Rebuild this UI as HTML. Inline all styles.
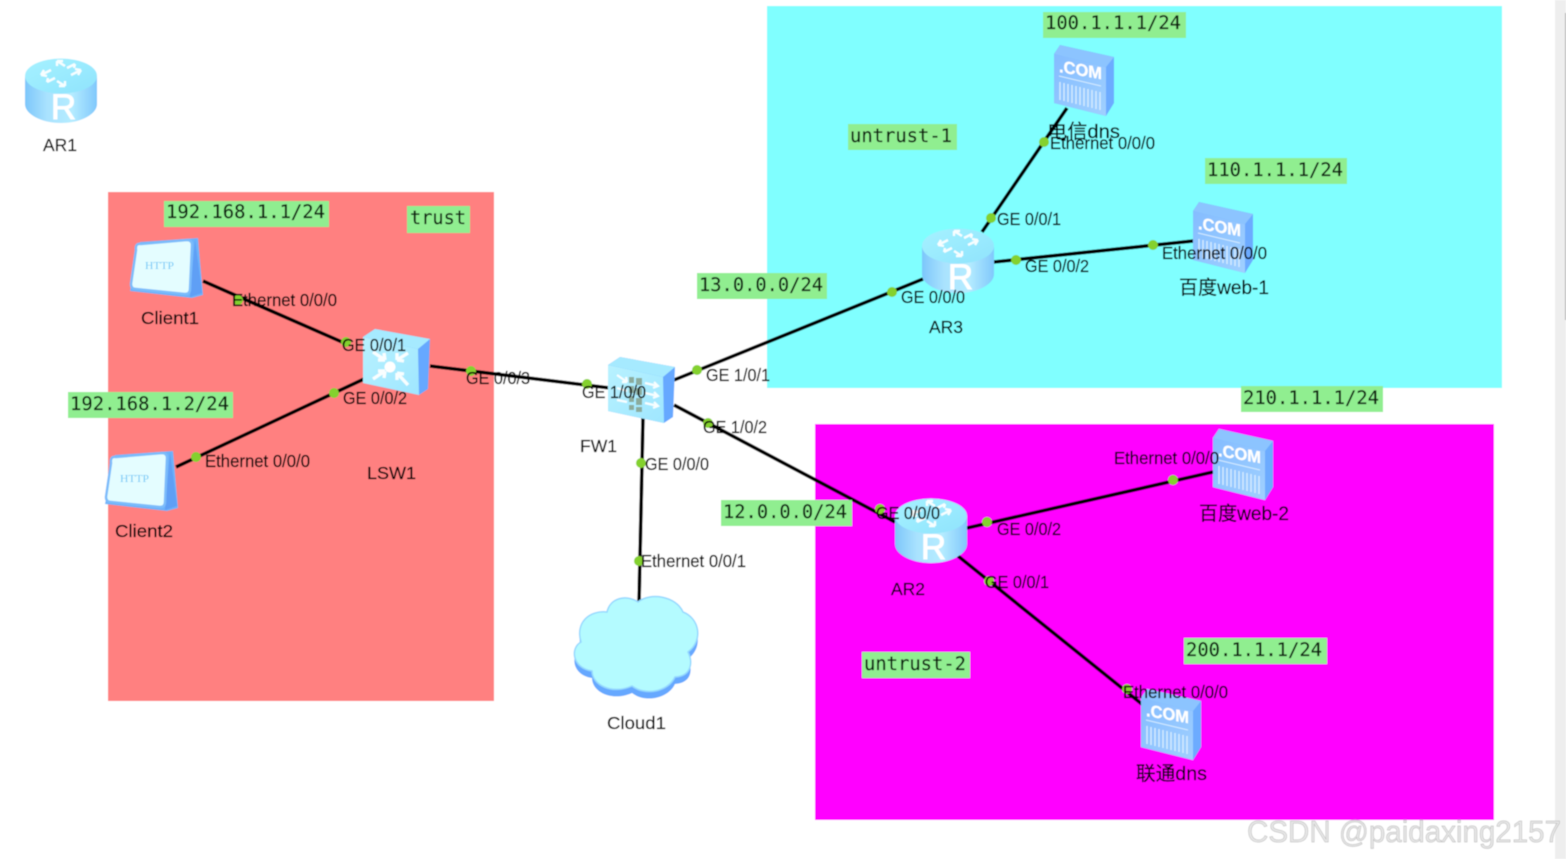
<!DOCTYPE html>
<html><head><meta charset="utf-8"><style>
html,body{margin:0;padding:0;background:#fff;width:1566px;height:859px;overflow:hidden}
svg{display:block}
.l{font-family:"Liberation Sans","Noto Sans CJK SC",sans-serif;font-size:17.5px;fill:#000;stroke:#000;stroke-width:.2}
.z{font-family:"Liberation Sans","Noto Sans CJK SC",sans-serif;font-size:19.5px;fill:#000;stroke:#000;stroke-width:.2}
.i{font-family:"Liberation Sans",sans-serif;font-size:17.5px;fill:#000;stroke:#000;stroke-width:.2}
.m{font-family:"DejaVu Sans Mono","Liberation Mono",monospace;font-size:18.5px;fill:#0a200f;stroke:#0a200f;stroke-width:.2}
.g{fill:#90ee90}
.c{stroke:#000;stroke-width:3.6;fill:none}
.d{fill:#84d12f}
</style></head><body>
<svg width="1566" height="859" viewBox="0 0 1566 859" xmlns="http://www.w3.org/2000/svg">
<defs>
<filter id="soft" x="0" y="0" width="100%" height="100%"><feGaussianBlur stdDeviation="0.45"/></filter>
<linearGradient id="cy" x1="0" x2="1" y1="0" y2="0"><stop offset="0" stop-color="#7cc6fb"/><stop offset=".3" stop-color="#a9e2fe"/><stop offset=".65" stop-color="#b5ecff"/><stop offset="1" stop-color="#80c8fc"/></linearGradient>
<linearGradient id="top" x1="0" x2="1" y1="0" y2="1"><stop offset="0" stop-color="#a6f2ff"/><stop offset="1" stop-color="#8fe3fd"/></linearGradient>
<linearGradient id="srv" x1="0" x2="1" y1="0" y2="1"><stop offset="0" stop-color="#84bcff"/><stop offset="1" stop-color="#a0d0ff"/></linearGradient>
<linearGradient id="cube" x1="0" x2="1" y1="0" y2="1"><stop offset="0" stop-color="#b8f2ff"/><stop offset="1" stop-color="#9fe6ff"/></linearGradient>
<g id="router">
<path d="M0 18V46C0 56 16 65 36 65S72 56 72 46V18Z" fill="url(#cy)"/>
<ellipse cx="36" cy="18" rx="36" ry="17.5" fill="url(#top)"/>
<g transform="translate(36 15)" stroke="#fff" stroke-width="2.4" fill="none" opacity=".92">
<path d="M-20 2l10-5M-20 2l6 1M-20 2l3-5M-4-12l8 5M-4-12l6 0M-4-12l0 5M20-3l-10 5M20-3l-6-1M20-3l-3 5M4 13l-8-5M4 13l-6 0M4 13l0-5M-14 9l8-4M-14 9l1-4M14-9l-8 4M14-9l-1 4"/>
</g>
<text x="38.5" y="61" text-anchor="middle" font-family="Liberation Sans,sans-serif" font-size="35" fill="#fff" stroke="#fff" stroke-width=".9">R</text>
</g>
<g id="server">
<path d="M0 9L6 0L60 12L60 58L52 71L0 58Z" fill="#6cabff"/>
<path d="M0 9L52 22V71L0 58Z" fill="url(#srv)"/>
<path d="M0 9L6 0L60 12L52 22Z" fill="#8cc4ff"/>
<text x="0" y="0" transform="matrix(1 .17 0 1 5 27)" font-family="Liberation Sans,sans-serif" font-size="17" font-weight="bold" fill="#fff" stroke="#fff" stroke-width=".3" textLength="43" lengthAdjust="spacingAndGlyphs">.COM</text>
<path d="M5 31L47 41" stroke="#d6ecff" stroke-width="1"/>
<path d="M6 37V55M10 38V56M14 39V57M18 40V58M22 41V59M26 42V60M30 43V61M34 44V62M38 45V63M42 46V64M46 47V65" stroke="#d6ecff" stroke-width="1.4"/>
</g>
<g id="client">
<path d="M10 5L68 1L73 58L62 61L0 54Z" fill="#6cb2fb"/>
<path d="M65 2L72 56L60 60Z" fill="#5f9ff5"/>
<path d="M11 7Q5 6 6 13L1 47Q1 52 6 52L55 57Q60 57 60 52L62 8Q62 3 57 3Z" fill="#e4fdff" stroke="#7cbcfb" stroke-width="2.5"/>
<text x="15" y="32" font-family="Liberation Serif,serif" font-size="10.5" fill="#6fc8f6" textLength="29" lengthAdjust="spacingAndGlyphs">HTTP</text>
</g>
<g id="cubeW">
<path d="M0 8L12 0L67 10L65 60L56 66L0 54Z" fill="#66a8ff"/>
<path d="M0 8L55 20L56 66L0 54Z" fill="url(#cube)"/>
<path d="M0 8L12 0L67 10L55 20Z" fill="#a6eaff"/>
</g>
</defs>

<g filter="url(#soft)">
<rect width="1566" height="859" fill="#fff"/>
<rect x="1555" y="0" width="11" height="859" fill="#eeeeee"/>
<rect x="1565" y="13" width="1" height="307" fill="#a9a9a9"/>

<rect x="108" y="192" width="386" height="509" fill="#ff8080"/>
<rect x="767" y="6" width="735" height="382" fill="#80ffff"/>
<rect x="815" y="424" width="679" height="396" fill="#ff00ff"/>

<g class="c">
<path d="M203 281L342 342"/>
<path d="M176 467L364 379"/>
<path d="M430 366L610 388"/>
<path d="M674 380L923 279"/>
<path d="M674 405L895 522"/>
<path d="M643 418L639 604"/>
<path d="M982 232L1067 108"/>
<path d="M994 262L1193 241"/>
<path d="M967 528L1213 472"/>
<path d="M958 556L1143 705"/>
</g>

<use href="#router" x="25" y="58"/>
<use href="#router" x="922" y="228"/>
<use href="#router" x="895" y="498"/>
<use href="#server" x="1054" y="45"/>
<use href="#server" x="1193" y="202"/>
<use href="#server" x="1213" y="429"/>
<use href="#server" x="1141" y="689"/>
<use href="#client" x="130" y="237"/>
<use href="#client" x="105" y="450"/>

<!-- LSW1 -->
<use href="#cubeW" x="363" y="329"/>
<g stroke="#fff" stroke-width="3.4" fill="none" opacity=".92">
<path d="M373 352l12 8M385 360l-7 0M385 360l-1-7M408 353l-11 7M397 360l7 1M397 360l0-7M373 379l12-8M385 371l-7 0M385 371l-1 7M408 385l-11-12M397 373l7 1M397 373l0 7"/>
</g>
<circle cx="390" cy="367" r="5.5" fill="#fff"/>
<!-- FW1 -->
<use href="#cubeW" x="608" y="357"/>
<g stroke="#fff" stroke-width="2.2" fill="none" opacity=".92">
<path d="M617 375l10 7M627 382l-5 0M627 382l-1-5M617 388l10 3M617 400l10 2M645 383l13 3M654 382l4 4-5 2M645 393l13 3M654 392l4 4-5 2M645 403l13 3M654 402l4 4-5 2"/>
</g>
<g fill="#8aa898" opacity=".95">
<rect x="629" y="377" width="5" height="6"/><rect x="636" y="378" width="6" height="7"/>
<rect x="629" y="386" width="5" height="7"/><rect x="636" y="388" width="6" height="7"/>
<rect x="629" y="396" width="5" height="6"/><rect x="636" y="398" width="6" height="7"/>
<rect x="629" y="405" width="5" height="5"/><rect x="636" y="407" width="6" height="5"/>
</g>
<!-- Cloud -->
<path transform="translate(0 7)" d="M581 642C570 648 572 668 592 671C592 685 612 695 632 686C645 696 668 692 675 677C692 676 693 662 688 652C704 640 699 618 683 612C676 596 650 592 638 602C626 594 610 598 607 612C590 610 575 622 581 642Z" fill="#66a8ff"/>
<path d="M581 642C570 648 572 668 592 671C592 685 612 695 632 686C645 696 668 692 675 677C692 676 693 662 688 652C704 640 699 618 683 612C676 596 650 592 638 602C626 594 610 598 607 612C590 610 575 622 581 642Z" fill="#b4fbff" stroke="#95d8ff" stroke-width="1.5"/>

<g class="d">
<circle cx="238" cy="300" r="5"/><circle cx="346" cy="342" r="5"/><circle cx="196" cy="457" r="5"/><circle cx="334" cy="393" r="5"/>
<circle cx="471" cy="371" r="5"/><circle cx="587" cy="384" r="5"/><circle cx="697" cy="370" r="5"/><circle cx="892" cy="292" r="5"/>
<circle cx="708" cy="423" r="5"/><circle cx="880" cy="509" r="5"/><circle cx="641" cy="463" r="5"/><circle cx="639" cy="561" r="5"/>
<circle cx="991" cy="218" r="5"/><circle cx="1044" cy="142" r="5"/><circle cx="1016" cy="260" r="5"/><circle cx="1153" cy="245" r="5"/>
<circle cx="987" cy="522" r="5"/><circle cx="1173" cy="480" r="5"/><circle cx="989" cy="581" r="5"/><circle cx="1127" cy="689" r="5"/>
</g>

<g class="g">
<rect x="164" y="201" width="165" height="26"/><rect x="407" y="206" width="63" height="27"/><rect x="68" y="392" width="165" height="26"/>
<rect x="1043" y="12" width="143" height="26"/><rect x="848" y="124" width="109" height="26"/><rect x="1205" y="158" width="142" height="26"/>
<rect x="697" y="273" width="130" height="26"/><rect x="721" y="500" width="131" height="26"/><rect x="1241" y="386" width="142" height="26"/>
<rect x="1184" y="638" width="143" height="26"/><rect x="862" y="652" width="108" height="26"/>
</g>
<g class="m">
<text x="166" y="218" textLength="159" lengthAdjust="spacingAndGlyphs">192.168.1.1/24</text>
<text x="410" y="224" textLength="56" lengthAdjust="spacingAndGlyphs">trust</text>
<text x="70" y="410" textLength="159" lengthAdjust="spacingAndGlyphs">192.168.1.2/24</text>
<text x="1045" y="29" textLength="136" lengthAdjust="spacingAndGlyphs">100.1.1.1/24</text>
<text x="850" y="142" textLength="102" lengthAdjust="spacingAndGlyphs">untrust-1</text>
<text x="1207" y="176" textLength="136" lengthAdjust="spacingAndGlyphs">110.1.1.1/24</text>
<text x="699" y="291" textLength="124" lengthAdjust="spacingAndGlyphs">13.0.0.0/24</text>
<text x="723" y="518" textLength="124" lengthAdjust="spacingAndGlyphs">12.0.0.0/24</text>
<text x="1243" y="404" textLength="136" lengthAdjust="spacingAndGlyphs">210.1.1.1/24</text>
<text x="1186" y="656" textLength="136" lengthAdjust="spacingAndGlyphs">200.1.1.1/24</text>
<text x="864" y="670" textLength="102" lengthAdjust="spacingAndGlyphs">untrust-2</text>
</g>

<g class="i">
<text x="232" y="306" textLength="105" lengthAdjust="spacingAndGlyphs">Ethernet 0/0/0</text>
<text x="342" y="351" textLength="64" lengthAdjust="spacingAndGlyphs">GE 0/0/1</text>
<text x="343" y="404" textLength="64" lengthAdjust="spacingAndGlyphs">GE 0/0/2</text>
<text x="205" y="467" textLength="105" lengthAdjust="spacingAndGlyphs">Ethernet 0/0/0</text>
<text x="466" y="384" textLength="64" lengthAdjust="spacingAndGlyphs">GE 0/0/3</text>
<text x="582" y="398" textLength="64" lengthAdjust="spacingAndGlyphs">GE 1/0/0</text>
<text x="706" y="381" textLength="64" lengthAdjust="spacingAndGlyphs">GE 1/0/1</text>
<text x="703" y="433" textLength="64" lengthAdjust="spacingAndGlyphs">GE 1/0/2</text>
<text x="645" y="470" textLength="64" lengthAdjust="spacingAndGlyphs">GE 0/0/0</text>
<text x="641" y="567" textLength="105" lengthAdjust="spacingAndGlyphs">Ethernet 0/0/1</text>
<text x="901" y="303" textLength="64" lengthAdjust="spacingAndGlyphs">GE 0/0/0</text>
<text x="997" y="225" textLength="64" lengthAdjust="spacingAndGlyphs">GE 0/0/1</text>
<text x="1025" y="272" textLength="64" lengthAdjust="spacingAndGlyphs">GE 0/0/2</text>
<text x="1050" y="149" textLength="105" lengthAdjust="spacingAndGlyphs">Ethernet 0/0/0</text>
<text x="1162" y="259" textLength="105" lengthAdjust="spacingAndGlyphs">Ethernet 0/0/0</text>
<text x="876" y="519" textLength="64" lengthAdjust="spacingAndGlyphs">GE 0/0/0</text>
<text x="997" y="535" textLength="64" lengthAdjust="spacingAndGlyphs">GE 0/0/2</text>
<text x="985" y="588" textLength="64" lengthAdjust="spacingAndGlyphs">GE 0/0/1</text>
<text x="1114" y="464" textLength="105" lengthAdjust="spacingAndGlyphs">Ethernet 0/0/0</text>
<text x="1123" y="698" textLength="105" lengthAdjust="spacingAndGlyphs">Ethernet 0/0/0</text>
</g>
<g class="l">
<text x="43" y="151" textLength="34" lengthAdjust="spacingAndGlyphs">AR1</text>
<text x="141" y="324" textLength="58" lengthAdjust="spacingAndGlyphs">Client1</text>
<text x="367" y="479" textLength="49" lengthAdjust="spacingAndGlyphs">LSW1</text>
<text x="580" y="452" textLength="37" lengthAdjust="spacingAndGlyphs">FW1</text>
<text x="115" y="537" textLength="58" lengthAdjust="spacingAndGlyphs">Client2</text>
<text x="607" y="729" textLength="59" lengthAdjust="spacingAndGlyphs">Cloud1</text>
<text x="929" y="333" textLength="34" lengthAdjust="spacingAndGlyphs">AR3</text>
<text x="891" y="595" textLength="34" lengthAdjust="spacingAndGlyphs">AR2</text>
</g>
<g class="z">
<text x="1179" y="294" textLength="90" lengthAdjust="spacingAndGlyphs">百度web-1</text>
<text x="1199" y="520" textLength="90" lengthAdjust="spacingAndGlyphs">百度web-2</text>
<text x="1047" y="138" textLength="73" lengthAdjust="spacingAndGlyphs">电信dns</text>
<text x="1136" y="780" textLength="71" lengthAdjust="spacingAndGlyphs">联通dns</text>
</g>
<text x="1247" y="842" textLength="314" lengthAdjust="spacingAndGlyphs" font-family="Liberation Sans,sans-serif" font-size="31" fill="#e6e6e6" stroke="#b4b4b4" stroke-width=".5">CSDN @paidaxing2157</text>
</g>
</svg>
</body></html>
